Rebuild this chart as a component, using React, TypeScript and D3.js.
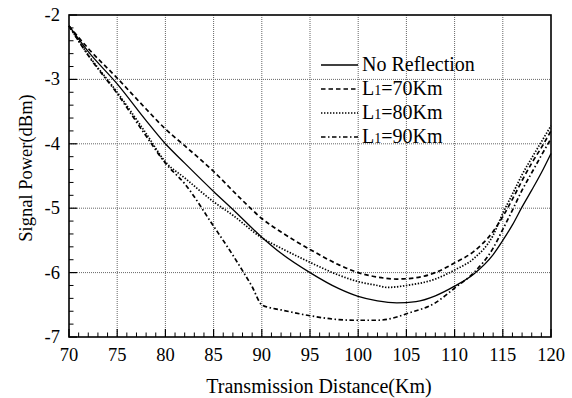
import React from "react";
import * as d3 from "d3";

const xTicks = [70, 75, 80, 85, 90, 95, 100, 105, 110, 115, 120];
const yTicks = [-2, -3, -4, -5, -6, -7];

const noReflX = [70, 72, 75, 78, 80, 82, 85, 87, 90, 92, 95, 98, 100, 102, 104, 106, 108, 110, 112, 114, 115, 116, 117, 118, 119, 120];
const noReflY = [-2.17, -2.57, -3.07, -3.64, -4.0, -4.3, -4.74, -5.02, -5.45, -5.7, -6.0, -6.25, -6.37, -6.44, -6.47, -6.45, -6.36, -6.21, -6.02, -5.72, -5.5, -5.26, -4.98, -4.72, -4.45, -4.15];

const l70X = [70, 72, 75, 78, 80, 82, 85, 88, 90, 92, 95, 98, 100, 102, 104, 106, 108, 110, 112, 114, 115, 116, 117, 118, 119, 120];
const l70Y = [-2.17, -2.52, -2.98, -3.46, -3.77, -4.03, -4.43, -4.88, -5.16, -5.37, -5.64, -5.88, -6.0, -6.07, -6.1, -6.08, -6.0, -5.85, -5.67, -5.36, -5.13, -4.86, -4.57, -4.3, -4.06, -3.8];

const l80X = [70, 72, 75, 78, 80, 82, 85, 87, 90, 92, 95, 98, 100, 102, 103, 105, 108, 110, 112, 114, 115, 116, 117, 118, 119, 120];
const l80Y = [-2.17, -2.62, -3.2, -3.84, -4.28, -4.53, -4.9, -5.11, -5.46, -5.62, -5.84, -6.04, -6.14, -6.2, -6.23, -6.2, -6.1, -5.96, -5.78, -5.42, -5.08, -4.78, -4.48, -4.22, -3.97, -3.72];

const l90X = [70, 72, 75, 78, 80, 82, 85, 87, 88, 89, 90, 91, 92, 95, 98, 100, 102, 104, 105, 108, 110, 112, 114, 115, 116, 117, 118, 119, 120];
const l90Y = [-2.17, -2.63, -3.22, -3.88, -4.3, -4.62, -5.28, -5.73, -5.97, -6.22, -6.5, -6.55, -6.58, -6.67, -6.73, -6.74, -6.74, -6.69, -6.64, -6.47, -6.24, -6.0, -5.62, -5.33, -5.03, -4.72, -4.45, -4.18, -3.92];

const seriesNames = ["No Reflection", "70Km", "80Km", "90Km"];

const W = 572;
const H = 398;
const left = 69;
const right = 551;
const top = 15;
const bottom = 337;

export default function App() {
  const x = d3.scaleLinear().domain([70, 120]).range([left, right]);
  const y = d3.scaleLinear().domain([-7, -2]).range([bottom, top]);
  const line = d3
    .line<[number, number]>()
    .x((d) => x(d[0]))
    .y((d) => y(d[1]))
    .curve(d3.curveMonotoneX);

  const series = [
    { xs: noReflX, ys: noReflY, dash: "none", w: 1.3 },
    { xs: l70X, ys: l70Y, dash: "4.5,3", w: 1.7 },
    { xs: l80X, ys: l80Y, dash: "1.4,1.6", w: 1.7 },
    { xs: l90X, ys: l90Y, dash: "4.5,2.5,1.5,2.5", w: 1.7 },
  ];

  const xMinor = d3.range(70, 121, 1).filter((v) => v % 5 !== 0);
  const yMinor = d3.range(-7, -2.0001, 0.2).filter((v) => Math.abs(v - Math.round(v)) > 0.01);

  const font = "'Liberation Serif', 'Times New Roman', serif";

  return (
    <svg width={W} height={H} style={{ position: "absolute", left: 0, top: 0, background: "#fff" }} fontFamily={font}>
      <rect x={0} y={0} width={W} height={H} fill="#fff" />
      {/* grid */}
      {xTicks.slice(1, -1).map((v) => (
        <line key={"gx" + v} x1={x(v)} x2={x(v)} y1={top} y2={bottom} stroke="#666" strokeWidth={1} strokeDasharray="1,1" />
      ))}
      {yTicks.slice(1, -1).map((v) => (
        <line key={"gy" + v} x1={left} x2={right} y1={y(v)} y2={y(v)} stroke="#666" strokeWidth={1} strokeDasharray="1,1" />
      ))}
      {/* ticks */}
      {xTicks.map((v) => (
        <line key={"tx" + v} x1={x(v)} x2={x(v)} y1={bottom} y2={bottom - 8} stroke="#000" strokeWidth={1.2} />
      ))}
      {xMinor.map((v) => (
        <line key={"mx" + v} x1={x(v)} x2={x(v)} y1={bottom} y2={bottom - 4.5} stroke="#000" strokeWidth={1} />
      ))}
      {yTicks.map((v) => (
        <line key={"ty" + v} x1={left} x2={left + 8} y1={y(v)} y2={y(v)} stroke="#000" strokeWidth={1.2} />
      ))}
      {yMinor.map((v, i) => (
        <line key={"my" + i} x1={left} x2={left + 4.5} y1={y(v)} y2={y(v)} stroke="#000" strokeWidth={1} />
      ))}
      {/* curves */}
      {series.map((s, i) => (
        <path
          key={"s" + i}
          d={line(s.xs.map((v, j) => [v, s.ys[j]] as [number, number])) || ""}
          fill="none"
          stroke="#000"
          strokeWidth={s.w}
          strokeDasharray={s.dash}
        />
      ))}
      {/* frame */}
      <rect x={left} y={top} width={right - left} height={bottom - top} fill="none" stroke="#000" strokeWidth={1.6} />
      {/* tick labels */}
      {xTicks.map((v) => (
        <text key={"lx" + v} x={x(v)} y={361} textAnchor="middle" fontSize={18.5}>
          {v}
        </text>
      ))}
      {yTicks.map((v) => (
        <text key={"ly" + v} x={60} y={y(v) + 6} textAnchor="end" fontSize={18.5}>
          {v}
        </text>
      ))}
      <text x={319} y={393} textAnchor="middle" fontSize={20}>
        Transmission Distance(Km)
      </text>
      <text transform={`translate(32,${168}) rotate(-90)`} textAnchor="middle" fontSize={18.5}>
        Signal Power(dBm)
      </text>
      {/* legend */}
      {series.map((s, i) => {
        const ly = 65 + i * 24;
        return (
          <g key={"lg" + i}>
            <line x1={321} x2={358} y1={ly} y2={ly} stroke="#000" strokeWidth={s.w} strokeDasharray={s.dash} />
            <text x={362} y={ly + 6} fontSize={20}>
              {i === 0 ? (
                seriesNames[0]
              ) : (
                <>
                  L<tspan fontSize={14}>1</tspan>={seriesNames[i]}
                </>
              )}
            </text>
          </g>
        );
      })}
    </svg>
  );
}
